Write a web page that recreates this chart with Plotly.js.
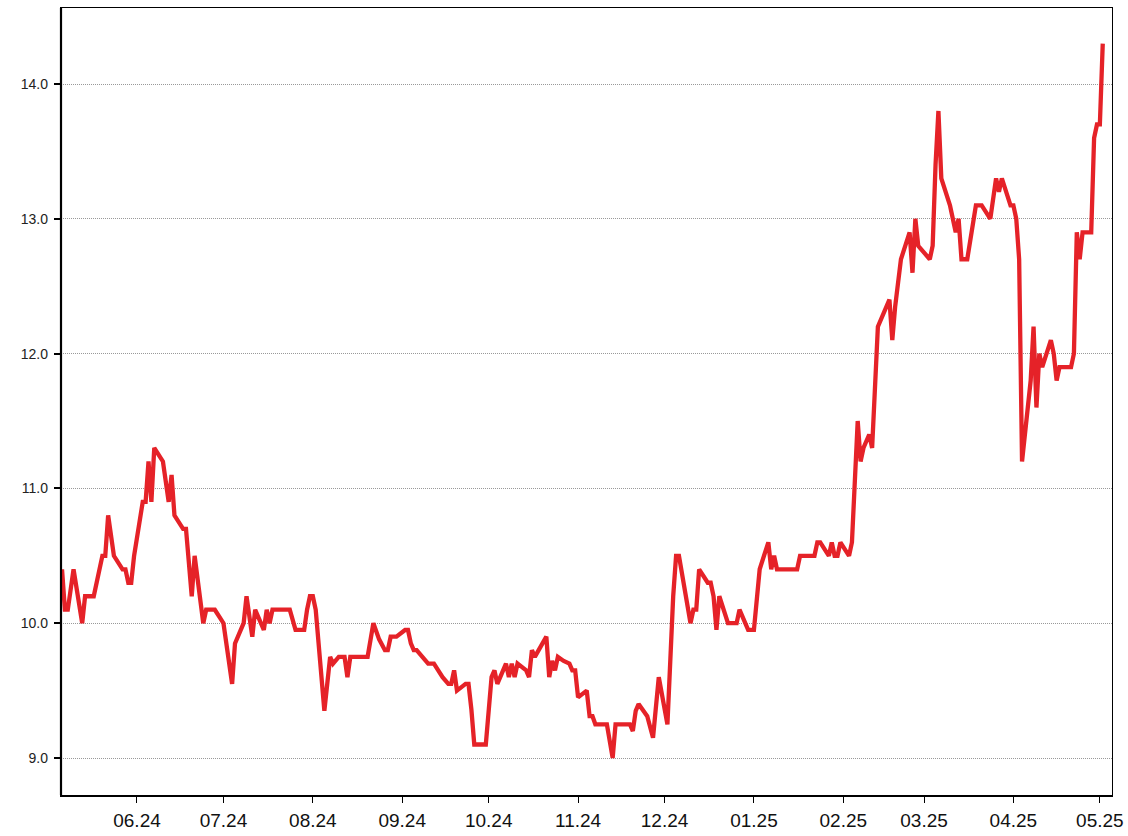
<!DOCTYPE html>
<html>
<head>
<meta charset="utf-8">
<script src="https://cdn.plot.ly/plotly-3.0.1.min.js"></script>
<style>
html,body{margin:0;padding:0;background:#fff;}
#chart{width:1128px;height:836px;}
</style>
</head>
<body>
<div id="chart"></div>
<script>
const dates = [
"2024-05-06","2024-05-07","2024-05-08","2024-05-10","2024-05-13","2024-05-14","2024-05-17","2024-05-20","2024-05-21","2024-05-22",
"2024-05-24","2024-05-27","2024-05-28","2024-05-29","2024-05-30","2024-05-31","2024-06-03","2024-06-04","2024-06-05","2024-06-06",
"2024-06-07","2024-06-10","2024-06-12","2024-06-13","2024-06-14","2024-06-17","2024-06-18","2024-06-20","2024-06-21","2024-06-24",
"2024-06-25","2024-06-28","2024-07-01","2024-07-04","2024-07-05","2024-07-08","2024-07-09","2024-07-11","2024-07-12","2024-07-15",
"2024-07-16","2024-07-17","2024-07-18","2024-07-24","2024-07-26","2024-07-29","2024-07-30","2024-07-31","2024-08-01","2024-08-02",
"2024-08-05","2024-08-07","2024-08-08","2024-08-10","2024-08-12","2024-08-13","2024-08-14","2024-08-20","2024-08-22","2024-08-24",
"2024-08-26","2024-08-27","2024-08-28","2024-08-30","2024-09-02","2024-09-03","2024-09-04","2024-09-05","2024-09-06","2024-09-08",
"2024-09-10","2024-09-12","2024-09-15","2024-09-17","2024-09-18","2024-09-19","2024-09-20","2024-09-23","2024-09-24","2024-09-25",
"2024-09-26","2024-09-30","2024-10-02","2024-10-03","2024-10-04","2024-10-07","2024-10-08","2024-10-09","2024-10-10","2024-10-11",
"2024-10-14","2024-10-15","2024-10-16","2024-10-17","2024-10-21","2024-10-22","2024-10-23","2024-10-24","2024-10-25","2024-10-27",
"2024-10-29","2024-10-30","2024-10-31","2024-11-01","2024-11-04","2024-11-05","2024-11-06","2024-11-07","2024-11-11","2024-11-13",
"2024-11-14","2024-11-19","2024-11-20","2024-11-21","2024-11-22","2024-11-25","2024-11-27","2024-11-29","2024-12-02","2024-12-04",
"2024-12-05","2024-12-06","2024-12-10","2024-12-11","2024-12-12","2024-12-13","2024-12-16","2024-12-17","2024-12-18","2024-12-19",
"2024-12-20","2024-12-23","2024-12-26","2024-12-27","2024-12-30","2025-01-01","2025-01-03","2025-01-06","2025-01-07","2025-01-08",
"2025-01-09","2025-01-16","2025-01-17","2025-01-22","2025-01-23","2025-01-24","2025-01-27","2025-01-28","2025-01-29","2025-01-30",
"2025-01-31","2025-02-03","2025-02-04","2025-02-06","2025-02-07","2025-02-08","2025-02-10","2025-02-11","2025-02-12","2025-02-13",
"2025-02-17","2025-02-18","2025-02-19","2025-02-21","2025-02-24","2025-02-25","2025-02-26","2025-02-27","2025-03-03","2025-03-04",
"2025-03-05","2025-03-06","2025-03-07","2025-03-10","2025-03-12","2025-03-13","2025-03-14","2025-03-16","2025-03-19","2025-03-21",
"2025-03-24","2025-03-26","2025-03-27","2025-03-28","2025-03-31","2025-04-01","2025-04-02","2025-04-03","2025-04-04","2025-04-07",
"2025-04-08","2025-04-09","2025-04-10","2025-04-11","2025-04-14","2025-04-15","2025-04-16","2025-04-17","2025-04-21","2025-04-22",
"2025-04-23","2025-04-24","2025-04-25","2025-04-28","2025-04-29","2025-04-30","2025-05-01","2025-05-02"
];
const prices = [
10.4,10.1,10.1,10.4,10.0,10.2,10.2,10.5,10.5,10.8,
10.5,10.4,10.4,10.3,10.3,10.5,10.9,10.9,11.2,10.9,
11.3,11.2,10.9,11.1,10.8,10.7,10.7,10.2,10.5,10.0,
10.1,10.1,10.0,9.55,9.85,10.0,10.2,9.9,10.1,9.95,
10.1,10.0,10.1,10.1,9.95,9.95,10.1,10.2,10.2,10.1,
9.35,9.75,9.7,9.75,9.75,9.6,9.75,9.75,10.0,9.88,
9.8,9.8,9.9,9.9,9.95,9.95,9.85,9.8,9.8,9.75,
9.7,9.7,9.6,9.55,9.55,9.65,9.5,9.55,9.55,9.36,
9.1,9.1,9.6,9.65,9.55,9.7,9.6,9.7,9.6,9.7,
9.65,9.6,9.8,9.75,9.9,9.6,9.72,9.65,9.75,9.72,
9.7,9.65,9.65,9.45,9.5,9.31,9.31,9.25,9.25,9.0,
9.25,9.25,9.2,9.35,9.4,9.31,9.15,9.6,9.25,10.2,
10.5,10.5,10.0,10.1,10.1,10.4,10.3,10.3,10.2,9.95,
10.2,10.0,10.0,10.1,9.95,9.95,10.4,10.6,10.4,10.5,
10.4,10.4,10.5,10.5,10.6,10.6,10.5,10.6,10.5,10.5,
10.6,10.5,10.6,11.5,11.2,11.3,11.4,11.3,11.75,12.2,
12.4,12.1,12.35,12.7,12.9,12.6,13.0,12.8,12.7,12.8,
13.4,13.8,13.3,13.1,12.9,13.0,12.7,12.7,13.1,13.1,
13.0,13.3,13.2,13.3,13.1,13.1,13.0,12.7,11.2,11.8,
12.2,11.6,12.0,11.9,12.1,12.0,11.8,11.9,11.9,12.0,
12.9,12.7,12.9,12.9,13.6,13.7,13.7,14.3
];
const yTicks = [9, 10, 11, 12, 13, 14];
const xRange = ["2024-05-05 15:30", "2025-05-05 05:00"];
const yRange = [8.7255, 14.564];

const trace = {
  x: dates, y: prices, type: "scatter", mode: "lines",
  line: {color: "#e52228", width: 4.3, shape: "linear"},
  hoverinfo: "skip"
};

const layout = {
  width: 1128, height: 836,
  margin: {l: 61, r: 16, t: 8, b: 41, pad: 0},
  paper_bgcolor: "#ffffff", plot_bgcolor: "#ffffff",
  showlegend: false,
  xaxis: {
    type: "date", range: xRange,
    tickformat: "%m.%y", dtick: "M1", tick0: "2024-06-01",
    ticks: "outside", ticklen: 6, tickwidth: 1, tickcolor: "#000",
    showgrid: false, zeroline: false,
    showline: true, linecolor: "#000", linewidth: 1.5, mirror: true,
    tickfont: {family: "Liberation Sans Narrow, Arial Narrow, Liberation Sans, Arial, sans-serif", size: 19, color: "#111"},
    ticklabelstandoff: 2
  },
  yaxis: {
    range: yRange, tickvals: yTicks, tickformat: ".1f",
    ticks: "outside", ticklen: 6, tickwidth: 2, tickcolor: "#000",
    showgrid: true, gridcolor: "#999999", griddash: "1px,1px", gridwidth: 1,
    zeroline: false,
    showline: true, linecolor: "#000", linewidth: 1.2, mirror: true,
    tickfont: {family: "Liberation Sans, Arial, sans-serif", size: 14, color: "#222"},
    ticklabelstandoff: 3
  },
  shapes: [
    {type: "line", xref: "paper", yref: "paper", x0: 0, x1: 0, y0: 0, y1: 1,
     line: {color: "#000", width: 2.2}}
  ]
};

Plotly.newPlot("chart", [trace], layout, {displayModeBar: false, staticPlot: true});
</script>
</body>
</html>
